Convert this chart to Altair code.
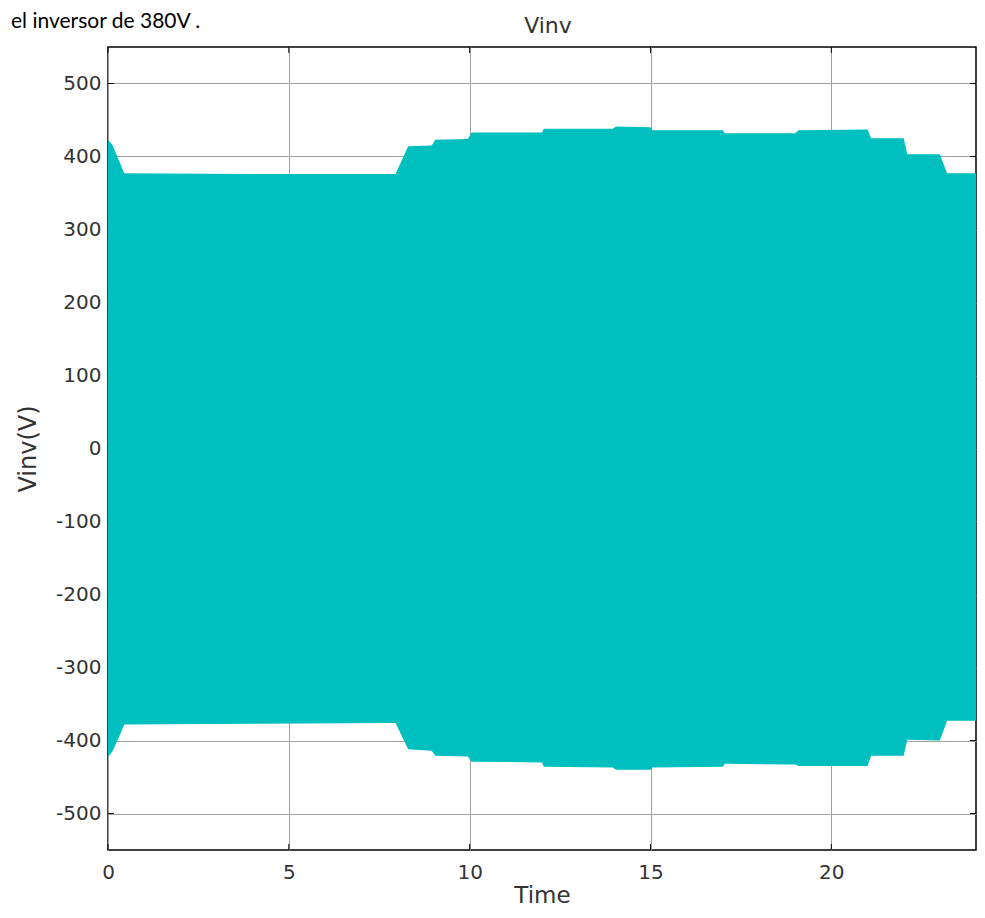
import altair as alt
import pandas as pd

# ---- data (envelope of the inverter voltage) ----
time_s = [0, 0.12, 0.3, 0.45, 4.0, 7.95, 8.3, 8.95, 9.05, 9.95, 10.05, 12.0, 12.05, 13.95,
          14.05, 15.0, 15.05, 17.0, 17.05, 19.0, 19.1, 21.0, 21.1, 22.0, 22.1, 23.0, 23.2, 24.0]
upper = [423, 416, 395, 377, 376, 376, 414, 415, 423, 424, 433, 433, 438, 438,
         441, 440, 436, 436, 432, 432, 436, 437, 425, 425, 403, 403, 377, 377]
lower = [-423, -415, -396, -378, -377, -376, -412, -414, -421, -422, -429, -430, -436, -437,
         -440, -440, -437, -436, -432, -433, -435, -435, -421, -421, -399, -400, -373, -373]

x_ticks = [0, 5, 10, 15, 20]
y_ticks = [-500, -400, -300, -200, -100, 0, 100, 200, 300, 400, 500]
title_text = ["Vinv"]
caption_text = ["el inversor de 380V ."]

W, H = 868, 803
FONT = "DejaVu Sans"
TXT = "#333333"

xs = alt.Scale(domain=[0, 24], nice=False, zero=False)
ys = alt.Scale(domain=[-550, 550], nice=False, zero=False)

x_axis = alt.Axis(
    values=x_ticks, grid=True, gridColor="#a0a0a0", gridWidth=1,
    ticks=False, domain=False, labelFont=FONT, labelFontSize=20,
    labelColor=TXT, labelPadding=12, labelFlush=False, labelBaseline="top",
    title="Time", titleFont=FONT, titleFontSize=23, titleFontWeight="normal",
    titleColor=TXT, titleX=W / 2, titleY=52, titleAlign="center",
    titleBaseline="alphabetic")
y_axis = alt.Axis(
    values=y_ticks, grid=True, gridColor="#a0a0a0", gridWidth=1,
    ticks=False, domain=False, labelFont=FONT, labelFontSize=20,
    labelColor=TXT, labelPadding=7, labelExpr="'' + datum.value",
    title="Vinv(V)", titleFont=FONT, titleFontSize=24, titleFontWeight="normal",
    titleColor=TXT, titleX=-80, titleY=H / 2, titleAngle=-90,
    titleAlign="center", titleBaseline="middle")

env = pd.DataFrame({"t": time_s, "hi": upper, "lo": lower})
xt = pd.DataFrame({"v": x_ticks})
yt = pd.DataFrame({"v": y_ticks})

area = alt.Chart(env).mark_area(color="#00BFBF", opacity=1).encode(
    x=alt.X("t:Q", scale=xs, axis=x_axis),
    y=alt.Y("hi:Q", scale=ys, axis=y_axis),
    y2="lo:Q",
)

tick_l = alt.Chart(yt).mark_rule(color="black", strokeWidth=1).encode(
    y=alt.Y("v:Q", scale=ys, axis=y_axis), x=alt.value(0), x2=alt.value(6))
tick_r = alt.Chart(yt).mark_rule(color="black", strokeWidth=1).encode(
    y=alt.Y("v:Q", scale=ys, axis=y_axis), x=alt.value(W - 6), x2=alt.value(W))
tick_b = alt.Chart(xt).mark_rule(color="black", strokeWidth=1).encode(
    x=alt.X("v:Q", scale=xs, axis=x_axis), y=alt.value(H), y2=alt.value(H - 6))
tick_t = alt.Chart(xt).mark_rule(color="black", strokeWidth=1).encode(
    x=alt.X("v:Q", scale=xs, axis=x_axis), y=alt.value(0), y2=alt.value(6))

title = alt.Chart(pd.DataFrame({"s": title_text})).mark_text(
    font=FONT, fontSize=22, color=TXT, align="center", baseline="alphabetic"
).encode(text="s:N", x=alt.value(440), y=alt.value(-14))

caption = alt.Chart(pd.DataFrame({"s": caption_text})).mark_text(
    font="Lato", fontSize=21, color="black", align="left", baseline="alphabetic"
).encode(text="s:N", x=alt.value(-97), y=alt.value(-19))

chart = alt.layer(tick_l, tick_r, tick_b, tick_t, area, title, caption).properties(
    width=W, height=H,
    autosize=alt.AutoSizeParams(type="none"),
    padding={"left": 100, "top": 39, "right": 1, "bottom": 58},
    background="white",
).configure_view(stroke="black", strokeWidth=1.5)

chart.save("out.html", embed_options={"renderer": "svg", "actions": False})
